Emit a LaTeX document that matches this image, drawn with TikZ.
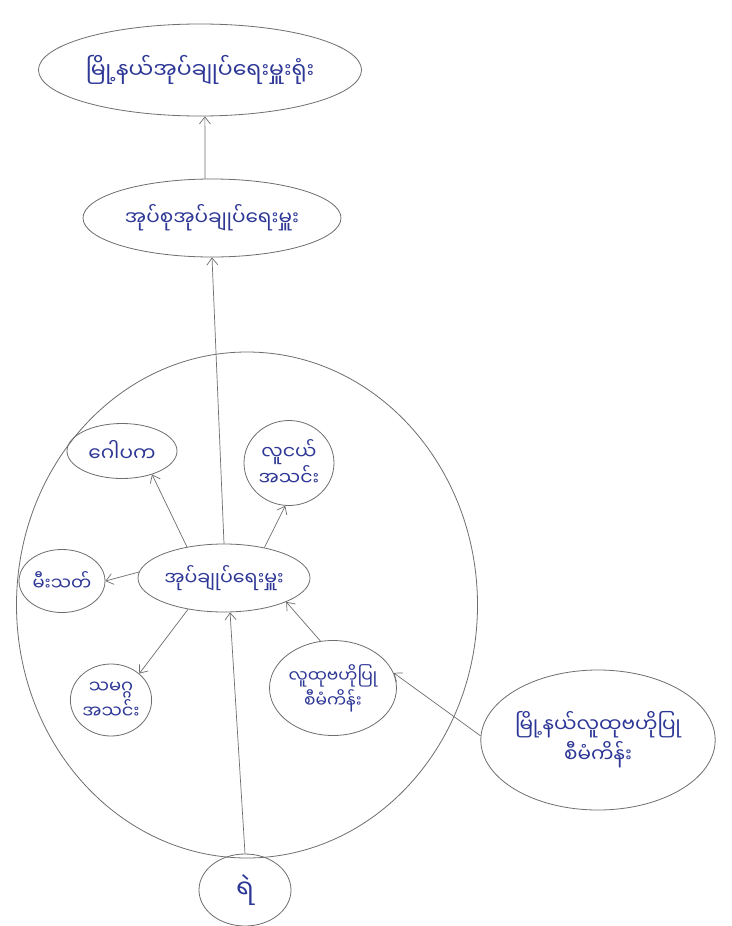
\documentclass[tikz,border=0pt]{standalone}
\usepackage{fontspec}
\newfontfamily\mm[Script=Myanmar]{Noto Sans Myanmar UI}
\usetikzlibrary{arrows.meta,shapes.geometric}
\definecolor{ink}{RGB}{45,55,150}
\definecolor{pen}{RGB}{110,110,110}
\tikzset{
  bub/.style={ellipse,draw=pen,line width=0.8pt,inner sep=0pt,font=\mm,text=ink,align=center},
  conn/.style={draw=pen,line width=0.7pt,-{Straight Barb[length=7pt,width=11pt]}}
}
\begin{document}
\begin{tikzpicture}[x=1pt,y=-1pt]
\useasboundingbox[fill=white] (0,0) rectangle (731,926);
% big circle
\node[ellipse,draw=pen,line width=0.8pt,minimum width=461pt,minimum height=506pt] (ring) at (247,605) {};
% nodes
\node[bub,minimum width=290pt,minimum height=92pt,font=\mm\fontsize{22}{26}\selectfont] (top) at (200,70) {မြို့နယ်အုပ်ချုပ်ရေးမှူးရုံး};
\node[bub,minimum width=258pt,minimum height=78pt,font=\mm\fontsize{20}{24}\selectfont] (tract) at (212,218) {အုပ်စုအုပ်ချုပ်ရေးမှူး};
\node[bub,minimum width=172pt,minimum height=68pt,font=\mm\fontsize{19}{23}\selectfont] (ctr) at (224,578) {အုပ်ချုပ်ရေးမှူး};
\node[bub,minimum width=110pt,minimum height=55pt,font=\mm\fontsize{20}{24}\selectfont] (gopa) at (122,451) {ဂေါပက};
\node[bub,minimum width=90pt,minimum height=85pt,font=\mm\fontsize{19}{26}\selectfont] (youth) at (289,463) {လူငယ်\\အသင်း};
\node[bub,minimum width=86pt,minimum height=63pt,font=\mm\fontsize{18}{22}\selectfont] (fire) at (62,581) {မီးသတ်};
\node[bub,minimum width=78pt,minimum height=72pt,font=\mm\fontsize{18}{24}\selectfont] (union) at (111,700) {သမဂ္ဂ\\အသင်း};
\node[bub,minimum width=127pt,minimum height=95pt,font=\mm\fontsize{17}{25}\selectfont] (comm) at (333,688) {လူထုဗဟိုပြု\\စီမံကိန်း};
\node[bub,minimum width=225pt,minimum height=140pt,font=\mm\fontsize{20}{30}\selectfont] (town) at (598,740) {မြို့နယ်လူထုဗဟိုပြု\\စီမံကိန်း};
\node[bub,minimum width=92pt,minimum height=72pt,font=\mm\fontsize{26}{30}\selectfont] (police) at (245,890) {ရဲ};
% connectors
\draw[conn] (tract.100) -- (top.-84);
\draw[conn] (ctr.north) -- (tract.south);
\draw[conn] (ctr.140) -- (gopa.-38);
\draw[conn] (ctr.37) -- (youth.-95);
\draw[conn] (ctr.176) -- (fire.east);
\draw[conn] (ctr.-139) -- (union.43);
\draw[conn] (comm.105) -- (ctr.-21);
\draw[conn] (town.178) -- (comm.14);
\draw[conn] (police.north) -- (ctr.-80);
\end{tikzpicture}
\end{document}
